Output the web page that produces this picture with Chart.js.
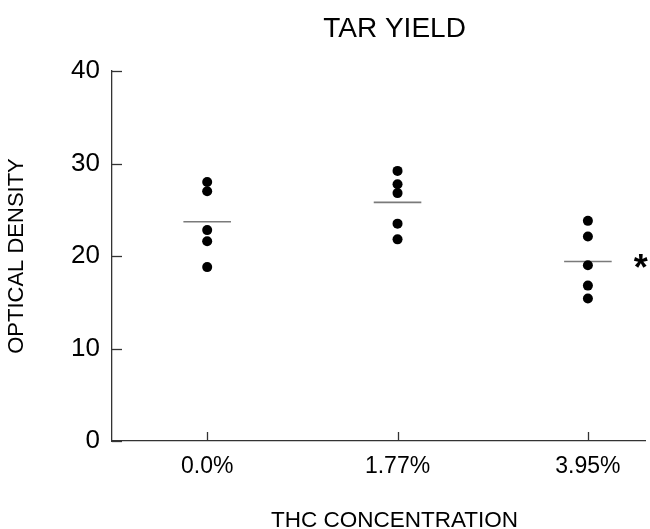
<!DOCTYPE html>
<html>
<head>
<meta charset="utf-8">
<script src="https://cdn.jsdelivr.net/npm/chart.js@4/dist/chart.umd.min.js"></script>
<style>
html,body{margin:0;padding:0;background:#fff;}
canvas{display:block;}
</style>
</head>
<body>
<canvas id="c" width="650" height="529"></canvas>
<script>
// ---- Data ----
const categories = ['0.0%', '1.77%', '3.95%'];
const group1 = [28.0, 27.0, 22.8, 21.6, 18.8];
const group2 = [29.2, 27.75, 26.8, 23.5, 21.8];
const group3 = [23.8, 22.1, 19.0, 16.8, 15.4];
const means = [23.7, 25.8, 19.4];
const significant = [false, false, true];
const yTicks = [0, 10, 20, 30, 40];
const titleText = 'TAR YIELD';
const xTitle = 'THC CONCENTRATION';
const yTitle = 'OPTICAL DENSITY';

const FONT = '"Liberation Sans", Arial, Helvetica, sans-serif';
const groups = [group1, group2, group3];
const halfMean = 0.125;

const datasets = [];
groups.forEach((g, i) => {
  datasets.push({
    type: 'scatter',
    data: g.map(v => ({x: i + 1, y: v})),
    backgroundColor: '#000',
    borderColor: '#000',
    pointRadius: 5,
    pointHoverRadius: 5,
    borderWidth: 0
  });
});
means.forEach((m, i) => {
  datasets.push({
    type: 'line',
    data: [{x: i + 1 - halfMean, y: m}, {x: i + 1 + halfMean, y: m}],
    borderColor: '#7a7a7a',
    borderWidth: 1.6,
    pointRadius: 0,
    fill: false
  });
});

const decor = {
  id: 'decor',
  afterDraw(chart) {
    const ctx = chart.ctx;
    const xs = chart.scales.x, ys = chart.scales.y;
    const ca = chart.chartArea;
    ctx.save();
    ctx.strokeStyle = '#333';
    ctx.lineWidth = 1.3;
    // inward y ticks
    yTicks.forEach(v => {
      const y = Math.round(ys.getPixelForValue(v)) + 0.5;
      ctx.beginPath(); ctx.moveTo(ca.left, y); ctx.lineTo(ca.left + 10, y); ctx.stroke();
    });
    // inward x ticks
    categories.forEach((c, i) => {
      const x = Math.round(xs.getPixelForValue(i + 1)) + 0.5;
      ctx.beginPath(); ctx.moveTo(x, ca.bottom); ctx.lineTo(x, ca.bottom - 9); ctx.stroke();
    });
    // significance asterisk
    ctx.fillStyle = '#000';
    ctx.textAlign = 'center';
    ctx.textBaseline = 'middle';
    ctx.font = 'bold 36px ' + FONT;
    significant.forEach((s, i) => {
      if (!s) return;
      const x = xs.getPixelForValue(i + 1 + halfMean) + 29;
      const y = ys.getPixelForValue(means[i]) + 9;
      ctx.fillText('*', x, y);
    });
    // titles centred on the middle category
    const cx = xs.getPixelForValue(2) - 3;
    ctx.font = '28px ' + FONT;
    ctx.fillText(titleText, cx, 29);
    ctx.font = '22.5px ' + FONT;
    ctx.fillText(xTitle, cx, 521);
    ctx.restore();
  }
};

new Chart(document.getElementById('c'), {
  type: 'scatter',
  data: {datasets},
  options: {
    responsive: false,
    animation: false,
    events: [],
    layout: {padding: {left: 0, right: 0, top: 71, bottom: 0}},
    plugins: {legend: {display: false}, tooltip: {enabled: false}, title: {display: false}},
    scales: {
      x: {
        type: 'linear',
        min: 0.5,
        max: 3.3,
        afterBuildTicks: s => { s.ticks = categories.map((c, i) => ({value: i + 1})); },
        afterFit: s => { s.height = 88; },
        grid: {display: false, drawTicks: false},
        border: {display: true, color: '#333', width: 1.3},
        ticks: {
          callback: v => categories[v - 1],
          color: '#000',
          font: {family: FONT, size: 23},
          padding: 12,
          maxRotation: 0,
          autoSkip: false
        }
      },
      y: {
        type: 'linear',
        min: 0,
        max: 40,
        afterBuildTicks: s => { s.ticks = yTicks.map(v => ({value: v})); },
        afterFit: s => { s.width = 112; },
        grid: {display: false, drawTicks: false},
        border: {display: true, color: '#333', width: 1.3},
        title: {display: true, text: yTitle, color: '#000', font: {family: FONT, size: 22}, padding: {top: 4, bottom: 0}},
        ticks: {
          color: '#000',
          font: {family: FONT, size: 26},
          padding: 12
        }
      }
    }
  },
  plugins: [decor]
});
</script>
</body>
</html>
